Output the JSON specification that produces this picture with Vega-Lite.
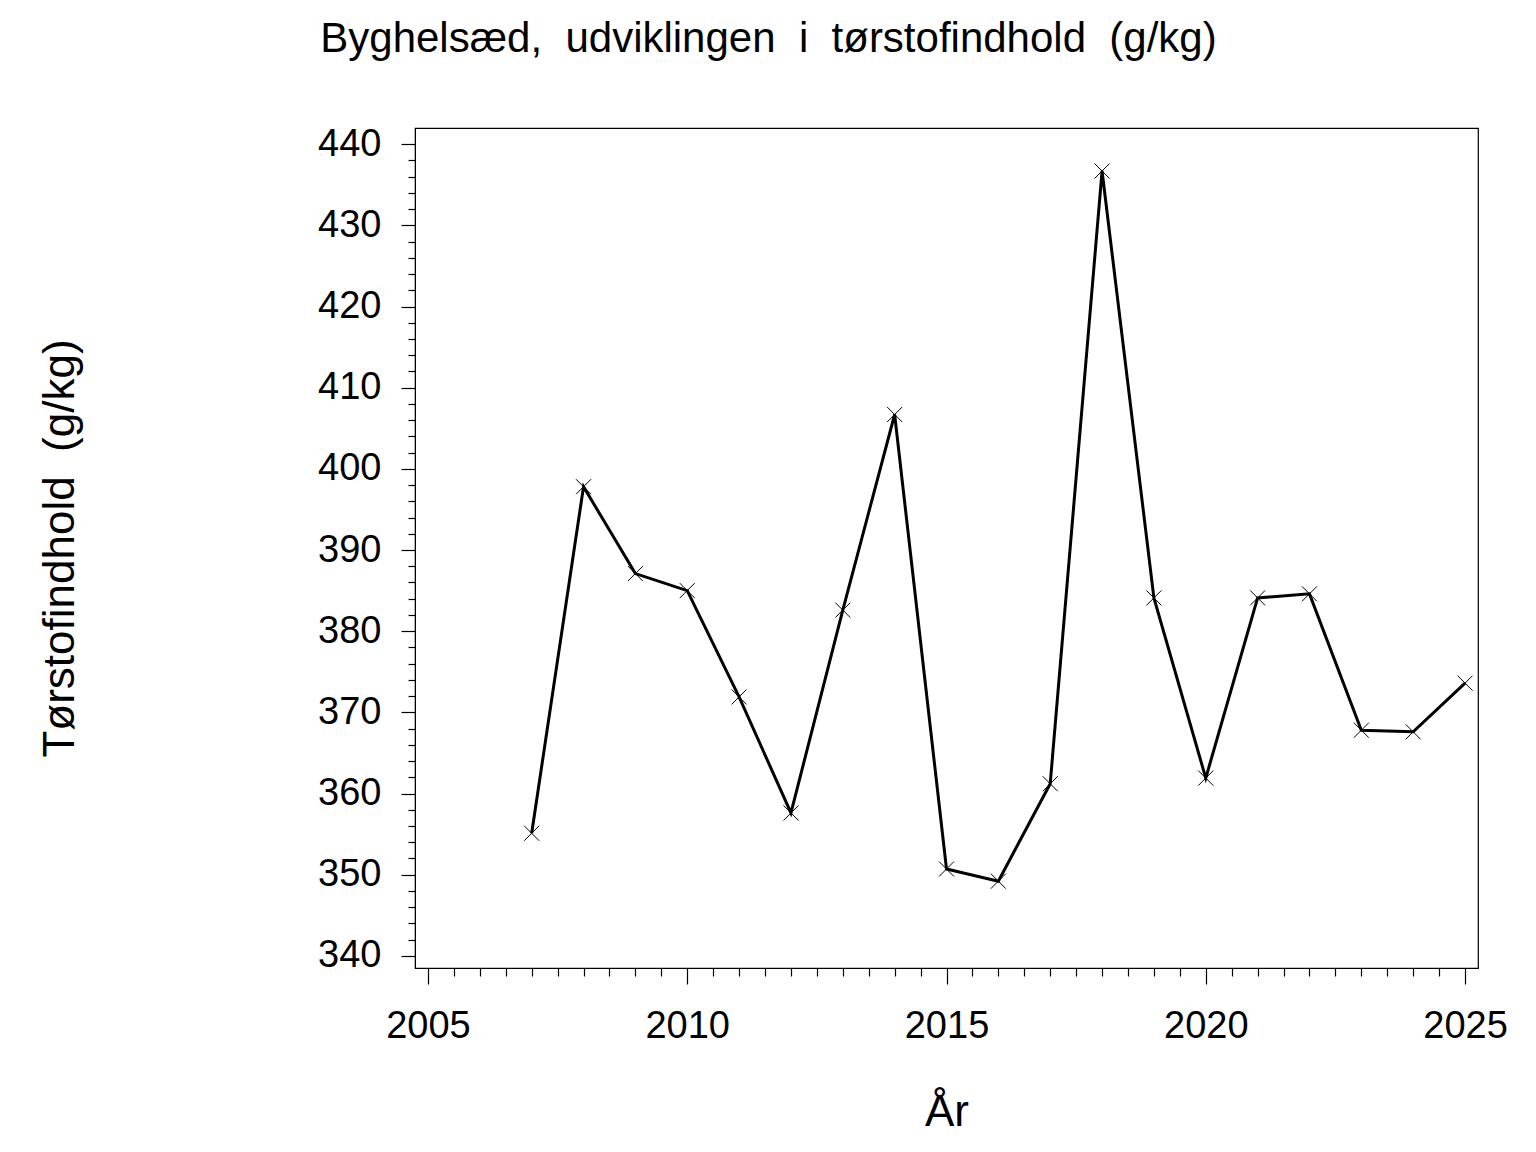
{
  "$schema": "https://vega.github.io/schema/vega-lite/v6.json",
  "width": 1063,
  "height": 840,
  "autosize": {"type": "none"},
  "padding": {"left": 415, "top": 128, "right": 58, "bottom": 184},
  "background": "white",
  "title": {
    "text": "Byghelsæd,\u00a0 udviklingen\u00a0 i\u00a0 tørstofindhold\u00a0 (g/kg)",
    "font": "Liberation Sans",
    "fontSize": 42,
    "fontWeight": "normal",
    "color": "black",
    "anchor": "middle",
    "baseline": "alphabetic",
    "offset": 31,
    "dx": -178
  },
  "config": {
    "view": {"stroke": "black", "strokeWidth": 1.2},
    "axis": {
      "grid": false,
      "domain": true,
      "domainColor": "black",
      "tickColor": "black",
      "tickWidth": 1.2,
      "labelColor": "black",
      "titleColor": "black",
      "labelFont": "Liberation Sans",
      "titleFont": "Liberation Sans",
      "labelFontSize": 38,
      "titleFontSize": 44,
      "titleFontWeight": "normal"
    }
  },
  "data": {
    "values": [
      {"year": 2007, "value": 355.1},
      {"year": 2008, "value": 397.8},
      {"year": 2009, "value": 387.1},
      {"year": 2010, "value": 385.0},
      {"year": 2011, "value": 371.9},
      {"year": 2012, "value": 357.6},
      {"year": 2013, "value": 382.6},
      {"year": 2014, "value": 406.7},
      {"year": 2015, "value": 350.7},
      {"year": 2016, "value": 349.2},
      {"year": 2017, "value": 361.2},
      {"year": 2018, "value": 436.7},
      {"year": 2019, "value": 384.1},
      {"year": 2020, "value": 361.9},
      {"year": 2021, "value": 384.1},
      {"year": 2022, "value": 384.6},
      {"year": 2023, "value": 367.8},
      {"year": 2024, "value": 367.6},
      {"year": 2025, "value": 373.6}
    ]
  },
  "encoding": {
    "x": {
      "field": "year",
      "type": "quantitative",
      "scale": {"domain": [2004.75, 2025.25], "nice": false, "zero": false},
      "axis": {
        "title": "År",
        "values": [2005,2005.5,2006,2006.5,2007,2007.5,2008,2008.5,2009,2009.5,2010,2010.5,2011,2011.5,2012,2012.5,2013,2013.5,2014,2014.5,2015,2015.5,2016,2016.5,2017,2017.5,2018,2018.5,2019,2019.5,2020,2020.5,2021,2021.5,2022,2022.5,2023,2023.5,2024,2024.5,2025],
        "labelExpr": "datum.value % 5 === 0 ? toString(datum.value) : ''",
        "tickSize": {"condition": {"test": "datum.value % 5 === 0", "value": 16}, "value": 8},
        "labelPadding": 23,
        "labelFlush": false,
        "labelOverlap": false,
        "titleBaseline": "alphabetic",
        "titleY": 157
      }
    },
    "y": {
      "field": "value",
      "type": "quantitative",
      "scale": {"domain": [338.5, 442], "nice": false, "zero": false},
      "axis": {
        "title": "Tørstofindhold\u00a0 (g/kg)",
        "values": [340,342,344,346,348,350,352,354,356,358,360,362,364,366,368,370,372,374,376,378,380,382,384,386,388,390,392,394,396,398,400,402,404,406,408,410,412,414,416,418,420,422,424,426,428,430,432,434,436,438,440],
        "labelExpr": "datum.value % 10 === 0 ? toString(datum.value) : ''",
        "tickSize": {"condition": {"test": "datum.value % 10 === 0", "value": 14}, "value": 7},
        "labelPadding": 20,
        "labelFlush": false,
        "labelOverlap": false,
        "titleBaseline": "alphabetic",
        "titleX": -342,
        "titleY": 420
      }
    }
  },
  "layer": [
    {
      "mark": {"type": "line", "color": "black", "strokeWidth": 3}
    },
    {
      "mark": {
        "type": "point",
        "shape": "M-1,-1L1,1M1,-1L-1,1",
        "size": 225,
        "filled": false,
        "stroke": "black",
        "strokeWidth": 1,
        "opacity": 1
      }
    }
  ]
}
